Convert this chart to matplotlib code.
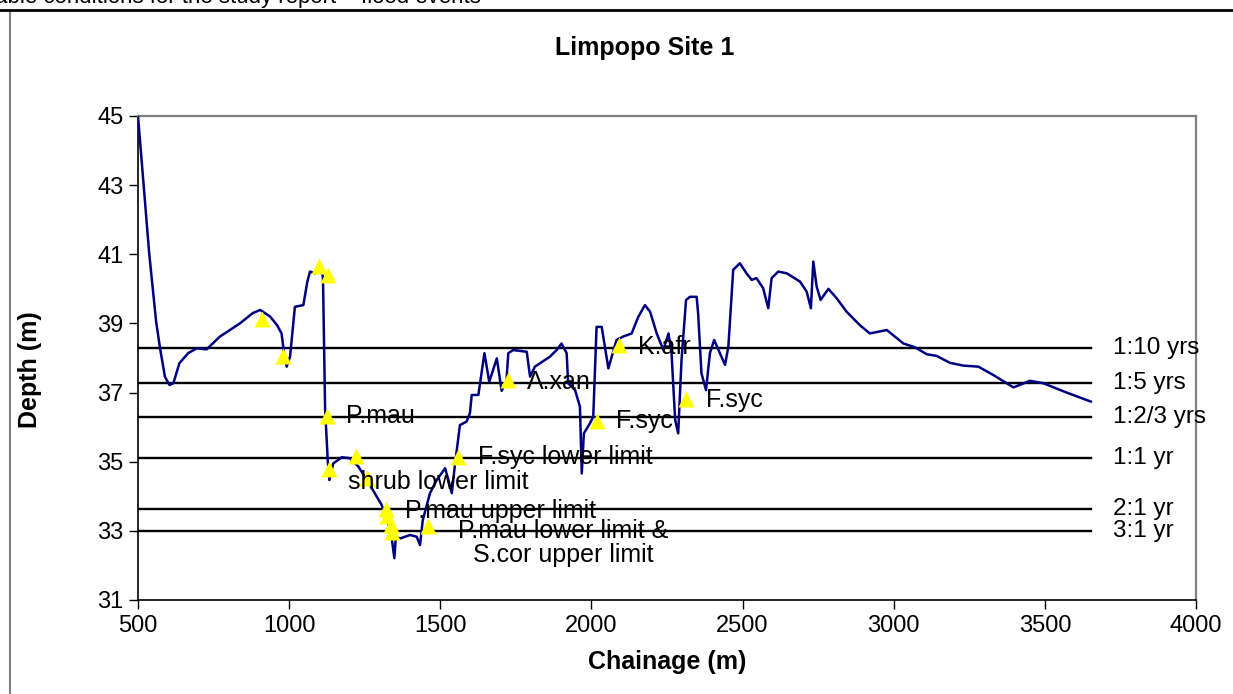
import matplotlib
matplotlib.use("Agg")
import matplotlib.pyplot as plt
from matplotlib.lines import Line2D

plt.rcParams['font.family'] = ['Liberation Sans', 'DejaVu Sans']

# --- bed profile along the reach ---
chainage = [500, 518, 537, 560, 573, 589, 604, 617, 637, 666, 694, 727, 771, 837,
            880, 904, 937, 960, 975, 983, 992, 1003, 1019, 1047, 1060, 1069, 1085,
            1095, 1108, 1112, 1119, 1128, 1133, 1146, 1174, 1201, 1229, 1267, 1306,
            1328, 1334, 1340, 1348, 1353, 1367, 1400, 1422, 1433, 1442, 1466, 1488,
            1516, 1527, 1538, 1549, 1565, 1587, 1598, 1604, 1626, 1646, 1662, 1687,
            1703, 1719, 1725, 1741, 1786, 1797, 1813, 1846, 1863, 1885, 1901, 1918,
            1923, 1946, 1962, 1968, 1975, 1995, 2006, 2017, 2034, 2056, 2083, 2105,
            2133, 2155, 2177, 2194, 2216, 2238, 2255, 2265, 2277, 2287, 2298, 2313,
            2326, 2348, 2353, 2364, 2379, 2392, 2406, 2425, 2442, 2453, 2469, 2491,
            2513, 2530, 2546, 2568, 2585, 2596, 2618, 2646, 2690, 2712, 2726, 2734,
            2745, 2758, 2784, 2811, 2844, 2888, 2921, 2977, 3032, 3070, 3109, 3142,
            3186, 3230, 3280, 3329, 3396, 3451, 3495, 3572, 3652]
depth = [45.0, 43.05, 41.03, 39.05, 38.28, 37.46, 37.22, 37.27, 37.85, 38.14, 38.28,
         38.25, 38.62, 39.0, 39.3, 39.39, 39.2, 38.95, 38.71, 38.14, 37.75, 38.04,
         39.48, 39.53, 40.2, 40.5, 40.45, 40.5, 40.55, 40.3, 36.5, 35.0, 34.47, 34.95,
         35.13, 35.1, 34.86, 34.33, 33.75, 33.22, 32.83, 32.75, 32.21, 32.83, 32.78,
         32.88, 32.83, 32.59, 33.31, 34.09, 34.47, 34.81, 34.47, 34.09, 34.95, 36.06,
         36.16, 36.4, 36.93, 36.93, 38.14, 37.31, 37.99, 37.05, 37.36, 38.14, 38.23,
         38.18, 37.46, 37.75, 37.94, 38.04, 38.23, 38.42, 38.14, 37.27, 37.07, 36.59,
         34.66, 35.82, 36.11, 36.3, 38.9, 38.9, 37.7, 38.52, 38.62, 38.71, 39.19,
         39.53, 39.34, 38.71, 38.23, 38.71, 38.14, 36.21, 35.82, 37.94, 39.68, 39.77,
         39.77, 39.29, 37.56, 37.07, 38.14, 38.52, 38.14, 37.8, 38.33, 40.55, 40.74,
         40.45, 40.26, 40.31, 40.02, 39.44, 40.31, 40.5, 40.45, 40.21, 39.92, 39.44,
         40.79, 40.07, 39.68, 40.0, 39.73, 39.34, 38.95, 38.71, 38.81, 38.42, 38.31,
         38.11, 38.06, 37.86, 37.78, 37.75, 37.51, 37.15, 37.34, 37.27, 37.0, 36.74]

# --- flood return-period levels ---
flood_levels = [38.28, 37.29, 36.29, 35.1, 33.63, 33.0]
flood_labels = ["1:10 yrs", "1:5 yrs", "1:2/3 yrs", "1:1 yr", "2:1 yr", "3:1 yr"]
flood_start, flood_end = 500, 3652

# --- vegetation observations ---
veg_x = [911, 981, 1098, 1130, 1125, 1132, 1222, 1258, 1321, 1325, 1338, 1340,
         1458, 1557, 1723, 2019, 2090, 2313]
veg_y = [39.12, 38.07, 40.66, 40.39, 36.33, 34.79, 35.17, 34.54, 33.64, 33.43,
         33.17, 32.98, 33.14, 35.14, 37.37, 36.19, 38.38, 36.8]
veg_idx = [4, 5, 8, 12, 13, 14, 15, 16, 17]
veg_names = ["P.mau", "shrub lower limit", "P.mau upper limit",
             "P.mau lower limit &\nS.cor upper limit", "F.syc lower limit",
             "A.xan", "F.syc", "K.afr", "F.syc"]

fig = plt.figure(figsize=(12.33, 6.94), dpi=100)
ax = fig.add_axes([138 / 1233, 1 - 600 / 694, 1058 / 1233, 484 / 694])

for lvl, lab in zip(flood_levels, flood_labels):
    ax.plot([flood_start, flood_end], [lvl, lvl], color='black', lw=1.7, zorder=2)
    ax.text(3725, lvl, lab, ha='left', va='center', fontsize=17.5, clip_on=False)

ax.plot(chainage, depth, color='#000080', lw=1.8, zorder=3,
        solid_joinstyle='round')
ax.plot(veg_x, veg_y, ls='none', marker='^', ms=11, color='#FFFF00',
        mec='none', zorder=4)

# label offsets in pixels (right of each marker)
offsets = [(19, 0), (19, -13), (19, -2), (136, -17), (20, 0), (19, -2),
           (19, 0), (19, -2), (20, -1)]
for i, name, (dx, dy) in zip(veg_idx, veg_names, offsets):
    multi = "\n" in name
    ax.annotate(name, (veg_x[i], veg_y[i]), xytext=(dx, dy),
                textcoords='offset pixels', fontsize=18,
                ha='center' if multi else 'left', va='center',
                multialignment='center', linespacing=1.0, zorder=5)

ax.set_xlim(500, 4000)
ax.set_ylim(31, 45)
ax.set_xticks(range(500, 4001, 500))
ax.set_yticks(range(31, 46, 2))
ax.tick_params(direction='out', length=6.5, width=1, labelsize=17, pad=4)

for side in ['top', 'right']:
    ax.spines[side].set_color('#808080')
    ax.spines[side].set_linewidth(1.6)
for side in ['left', 'bottom']:
    ax.spines[side].set_color('black')
    ax.spines[side].set_linewidth(1.2)

fig.text(645 / 1233, 1 - 48 / 694, "Limpopo Site 1", fontsize=18,
         fontweight='bold', ha='center', va='center')
ax.set_xlabel("Chainage (m)", fontsize=18, fontweight='bold', labelpad=10)
ax.set_ylabel("Depth (m)", fontsize=18, fontweight='bold')
ax.yaxis.set_label_coords(-0.0905, 0.477)

# page furniture around the chart
fig.add_artist(Line2D([0, 1], [1 - 9.5 / 694] * 2, color='black', lw=2))
fig.add_artist(Line2D([10 / 1233] * 2, [0, 1 - 13 / 694], color='#808080', lw=1.5))
fig.text(-0.004, 1 - 3 / 694, "able conditions for the study report – flood events",
         fontsize=16, va='baseline')

fig.savefig("out.png", dpi=100)
